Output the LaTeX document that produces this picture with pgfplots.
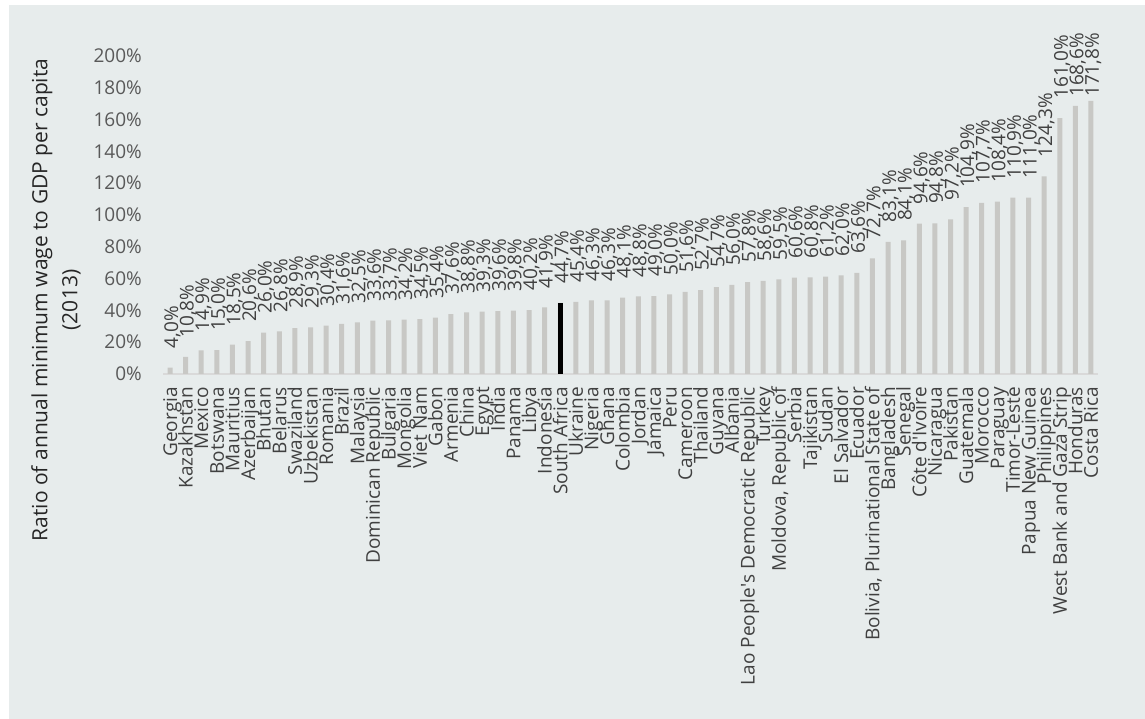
\documentclass[border=0pt]{standalone}
\usepackage{fontspec}
\setmainfont{Open Sans}
\usepackage{pgfplots}
\usepackage{pgfplotstable}
\pgfplotsset{compat=1.18}
\definecolor{bgcol}{RGB}{231,236,236}
\definecolor{barcol}{RGB}{200,200,197}
\definecolor{axcol}{RGB}{217,217,217}
\definecolor{tickcol}{RGB}{89,89,89}
\definecolor{labcol}{RGB}{64,64,64}
\definecolor{titcol}{RGB}{38,38,38}
\pgfplotstableread{
x v
0 4.0
1 10.8
2 14.9
3 15.0
4 18.5
5 20.6
6 26.0
7 26.8
8 28.9
9 29.3
10 30.4
11 31.6
12 32.5
13 33.6
14 33.7
15 34.2
16 34.5
17 35.4
18 37.6
19 38.8
20 39.3
21 39.6
22 39.8
23 40.2
24 41.9
25 44.7
26 45.4
27 46.3
28 46.3
29 48.1
30 48.8
31 49.0
32 50.0
33 51.6
34 52.7
35 54.7
36 56.0
37 57.8
38 58.6
39 59.5
40 60.6
41 60.8
42 61.2
43 62.0
44 63.6
45 72.7
46 83.1
47 84.1
48 94.6
49 94.8
50 97.2
51 104.9
52 107.7
53 108.4
54 110.9
55 111.0
56 124.3
57 161.0
58 168.6
59 171.8
}\data
\begin{document}
\begin{tikzpicture}[x=1pt,y=1pt]
\useasboundingbox (0,0) rectangle (1145,719);
\fill[bgcol] (9,0) rectangle (1145,714);
\begin{axis}[
  at={(163pt,345pt)}, anchor=south west,
  scale only axis, width=935pt, height=318pt,
  xmin=-0.45, xmax=59.45, ymin=0, ymax=200,
  axis x line*=bottom, axis y line*=left,
  y axis line style={draw=none},
  x axis line style={draw=axcol, line width=2pt, -},
  major tick length=0pt,
  xtick={0,...,59},
  xticklabels={Georgia,Kazakhstan,Mexico,Botswana,Mauritius,Azerbaijan,Bhutan,Belarus,Swaziland,Uzbekistan,Romania,Brazil,Malaysia,Dominican Republic,Bulgaria,Mongolia,Viet Nam,Gabon,Armenia,China,Egypt,India,Panama,Libya,Indonesia,South Africa,Ukraine,Nigeria,Ghana,Colombia,Jordan,Jamaica,Peru,Cameroon,Thailand,Guyana,Albania,{Lao People\textquotesingle s Democratic Republic},Turkey,{Moldova, Republic of},Serbia,Tajikistan,Sudan,El Salvador,Ecuador,{Bolivia, Plurinational State of},Bangladesh,Senegal,{Côte d\textquotesingle Ivoire},Nicaragua,Pakistan,Guatemala,Morocco,Paraguay,Timor-Leste,Papua New Guinea,Philippines,West Bank and Gaza Strip,Honduras,Costa Rica},
  ytick={0,20,...,200},
  yticklabel={\pgfmathprintnumber{\tick}\%},
  /pgf/number format/assume math mode=true,
  yticklabel style={font=\fontsize{19}{23}\selectfont, text=tickcol, anchor=east, inner sep=0pt, xshift=-21pt},
  xticklabel style={font=\fontsize{19}{23}\selectfont, text=labcol, yshift=-13pt, xshift=7pt, rotate=90, anchor=base east, inner sep=0pt},
  clip=false,
  ylabel={Ratio of annual minimum wage to GDP per capita\\(2013)},
  ylabel style={at={(axis description cs:-0.1144,0.2327)}, anchor=center, align=center, font=\fontsize{21}{30}\selectfont, text=titcol},
]
\addplot[ybar, bar width=5pt, bar shift=0pt, fill=barcol, draw=none] table[x=x,y=v]{\data};
\addplot[ybar, bar width=5pt, bar shift=0pt, fill=black, draw=none] coordinates {(25,44.7)};
\addplot[draw=none, mark=none, point meta=\thisrow{v},
  nodes near coords={\pgfmathprintnumber[fixed,fixed zerofill,precision=1,use comma]{\pgfplotspointmeta}\%},
  every node near coord/.append style={font=\fontsize{19}{23}\selectfont, text=labcol, xshift=8pt, rotate=90, anchor=base west, inner sep=0pt}]
  table[x=x, y expr={min(\thisrow{v}+12,174.2)}]{\data};
\end{axis}
\end{tikzpicture}
\end{document}
